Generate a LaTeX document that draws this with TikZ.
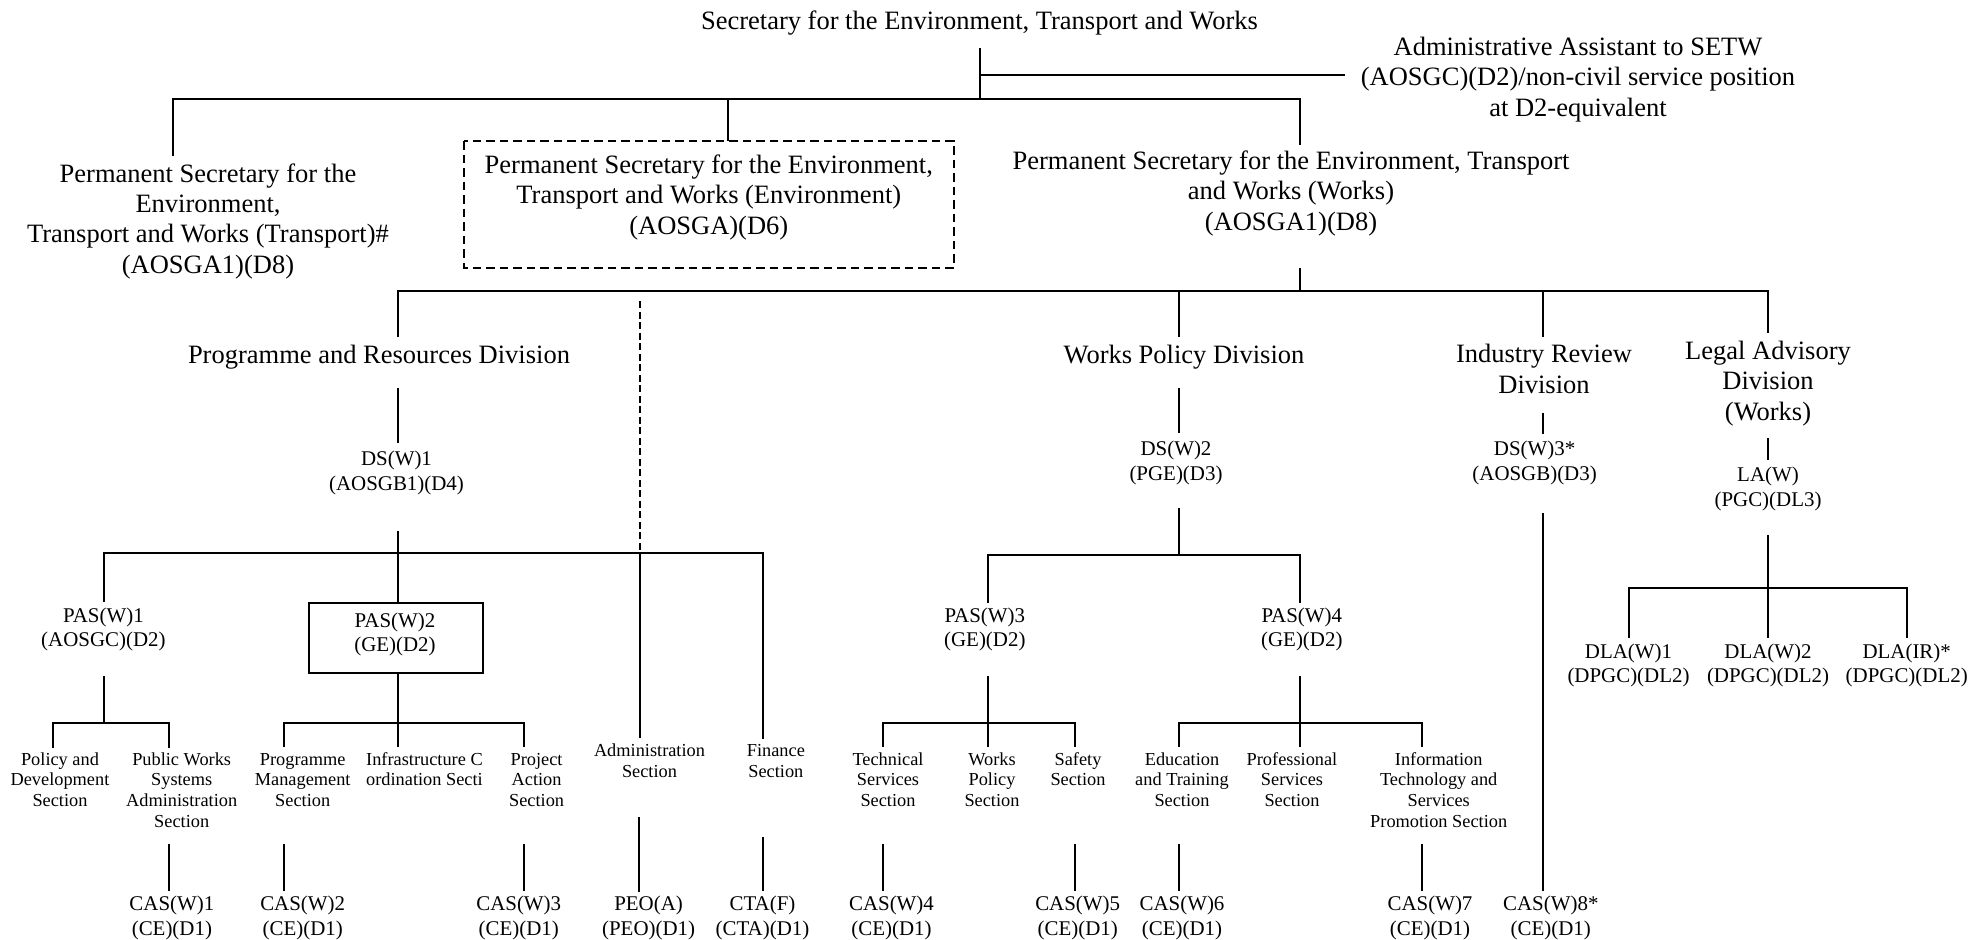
\documentclass[tikz,border=0pt]{standalone}
\usepackage{fontspec}
\setmainfont{Liberation Serif}
\begin{document}
\begin{tikzpicture}[x=1bp,y=-1bp,
  big/.style={font=\fontsize{26.6}{30.4}\selectfont, align=center, inner sep=0pt, anchor=base},
  mid/.style={font=\fontsize{21}{24.8}\selectfont, align=center, inner sep=0pt, anchor=base},
  sml/.style={font=\fontsize{18.4}{20.8}\selectfont, align=center, inner sep=0pt, anchor=base},
  ln/.style={line width=2bp},
  dbox/.style={line width=2bp, dash pattern=on 8.5bp off 5bp},
  dln/.style={line width=2bp, dash pattern=on 7bp off 3.5bp}]
\useasboundingbox (0,0) rectangle (1969,940);

% ---------- top level (node y = baseline of last line) ----------
\node[big] (setw) at (979.5,29) {Secretary for the Environment, Transport and Works};
\node[big] (aa) at (1578,116) {Administrative Assistant to SETW\\(AOSGC)(D2)/non-civil service position\\at D2-equivalent};
\node[big] (pst) at (208,273) {Permanent Secretary for the\\Environment,\\Transport and Works (Transport)\#\\(AOSGA1)(D8)};
\node[big] (pse) at (708.8,234) {Permanent Secretary for the Environment,\\Transport and Works (Environment)\\(AOSGA)(D6)};
\node[big] (psw) at (1291,230) {Permanent Secretary for the Environment, Transport\\and Works (Works)\\(AOSGA1)(D8)};
\draw[dbox] (464,141) rectangle (953.6,267.5);

\coordinate (s0) at (980,48);
\coordinate (s1) at (980,75);
\coordinate (s2) at (980,99);
\coordinate (aaL) at (1345,75);
\coordinate (b1L) at (173,99);
\coordinate (b1E) at (727.7,99);
\coordinate (b1R) at (1300,99);
\coordinate (pstT) at (173,156);
\coordinate (pseT) at (727.7,141);
\coordinate (pswT) at (1300,145);
\draw[ln] (s0) -- (s2);
\draw[ln] (s1) -- (aaL);
\draw[ln] (pstT) -- (b1L) -- (b1R) -- (pswT);
\draw[ln] (b1E) -- (pseT);

% ---------- divisions ----------
\node[big] (prd) at (379,363) {Programme and Resources Division};
\node[big] (wpd) at (1184,363) {Works Policy Division};
\node[big] (ird) at (1544,393) {Industry Review\\Division};
\node[big] (lad) at (1768,420) {Legal Advisory\\Division\\(Works)};

\coordinate (pswB) at (1300,268);
\coordinate (b2W) at (1300,291);
\coordinate (b2L) at (398,291);
\coordinate (b2R) at (1768,291);
\coordinate (b2P) at (1179,291);
\coordinate (b2I) at (1542.7,291);
\coordinate (prdT) at (398,337);
\coordinate (wpdT) at (1179,337);
\coordinate (irdT) at (1542.7,337);
\coordinate (ladT) at (1768,333);
\draw[ln] (pswB) -- (b2W);
\draw[ln] (prdT) -- (b2L) -- (b2R) -- (ladT);
\draw[ln] (b2P) -- (wpdT);
\draw[ln] (b2I) -- (irdT);

% ---------- deputy secretaries ----------
\node[mid] (ds1) at (396.5,490) {DS(W)1\\(AOSGB1)(D4)};
\node[mid] (ds2) at (1176,480) {DS(W)2\\(PGE)(D3)};
\node[mid] (ds3) at (1534.6,480) {DS(W)3*\\(AOSGB)(D3)};
\node[mid] (law) at (1768,506.7) {LA(W)\\(PGC)(DL3)};

\coordinate (prdB) at (398,388);
\coordinate (ds1T) at (398,443);
\coordinate (wpdB) at (1179,388);
\coordinate (ds2T) at (1179,433);
\coordinate (irdB) at (1542.7,412.7);
\coordinate (ds3T) at (1542.7,434);
\coordinate (ladB) at (1768,438);
\coordinate (lawT) at (1768,460);
\draw[ln] (prdB) -- (ds1T);
\draw[ln] (wpdB) -- (ds2T);
\draw[ln] (irdB) -- (ds3T);
\draw[ln] (ladB) -- (lawT);

% ---------- PAS level ----------
\node[mid] (pas1) at (103.4,646.7) {PAS(W)1\\(AOSGC)(D2)};
\node[mid] (pas2) at (395,651.7) {PAS(W)2\\(GE)(D2)};
\draw[ln] (309,603.3) rectangle (483,673.3);
\node[mid] (pas3) at (984.8,646.7) {PAS(W)3\\(GE)(D2)};
\node[mid] (pas4) at (1301.8,646.7) {PAS(W)4\\(GE)(D2)};
\node[mid] (dla1) at (1628.5,682.7) {DLA(W)1\\(DPGC)(DL2)};
\node[mid] (dla2) at (1768,682.7) {DLA(W)2\\(DPGC)(DL2)};
\node[mid] (dlair) at (1906.7,682.7) {DLA(IR)*\\(DPGC)(DL2)};

\coordinate (ds1B) at (398,531);
\coordinate (b3M) at (398,552.7);
\coordinate (pas2T) at (398,603.3);
\coordinate (b3L) at (103.6,552.7);
\coordinate (b3R) at (762.5,552.7);
\coordinate (b3A) at (639.5,552.7);
\coordinate (pas1T) at (103.6,601.7);
\coordinate (dashT) at (639.5,301);
\coordinate (admT) at (639.5,738);
\coordinate (finT) at (762.5,739);
\draw[ln] (ds1B) -- (pas2T);
\draw[ln] (pas1T) -- (b3L) -- (b3R) -- (finT);
\draw[ln] (b3A) -- (admT);
\draw[dln] (dashT) -- (b3A);

\coordinate (ds2B) at (1179,508);
\coordinate (bwM) at (1179,555);
\coordinate (bwL) at (988,555);
\coordinate (bwR) at (1300,555);
\coordinate (pas3T) at (988,602.7);
\coordinate (pas4T) at (1300,602.7);
\draw[ln] (ds2B) -- (bwM);
\draw[ln] (pas3T) -- (bwL) -- (bwR) -- (pas4T);

\coordinate (lawB) at (1768,535);
\coordinate (dla2T) at (1768,638.3);
\coordinate (b5L) at (1629.4,588.3);
\coordinate (b5R) at (1906.7,588.3);
\coordinate (dla1T) at (1629.4,638.3);
\coordinate (dlairT) at (1906.7,638.3);
\draw[ln] (lawB) -- (dla2T);
\draw[ln] (dla1T) -- (b5L) -- (b5R) -- (dlairT);

% ---------- sections ----------
\node[sml] (pds) at (60,806.6) {Policy and\\Development\\Section};
\node[sml] (pwsa) at (181.7,827.4) {Public Works\\Systems\\Administration\\Section};
\node[sml] (pms) at (302.7,806.6) {Programme\\Management\\Section};
\begin{scope}
\clip (360,740) rectangle (483.5,815);
\node[sml, align=left, anchor=base west] (ics) at (366,785.8) {Infrastructure C\\ordination Secti};
\end{scope}
\node[sml] (pas) at (536.6,806.6) {Project\\Action\\Section};
\node[sml] (adm) at (649.5,777.5) {Administration\\Section};
\node[sml] (fin) at (775.9,777.5) {Finance\\Section};
\node[sml] (tss) at (888,806.6) {Technical\\Services\\Section};
\node[sml] (wps) at (992,806.6) {Works\\Policy\\Section};
\node[sml] (saf) at (1078,785.8) {Safety\\Section};
\node[sml] (ets) at (1182,806.6) {Education\\and Training\\Section};
\node[sml] (pss) at (1292,806.6) {Professional\\Services\\Section};
\node[sml] (its) at (1438.7,827.4) {Information\\Technology and\\Services\\Promotion Section};

% PAS(W)1 branch
\coordinate (pas1B) at (104,676);
\coordinate (l1M) at (104,722.7);
\coordinate (l1L) at (52.7,722.7);
\coordinate (l1R) at (168.75,722.7);
\coordinate (pdsT) at (52.7,747.7);
\coordinate (pwsaT) at (168.75,747.7);
\draw[ln] (pas1B) -- (l1M);
\draw[ln] (pdsT) -- (l1L) -- (l1R) -- (pwsaT);
% PAS(W)2 branch
\coordinate (pas2B) at (398,673.3);
\coordinate (icsT) at (398,746.7);
\coordinate (l2L) at (283.5,722.7);
\coordinate (l2R) at (523.7,722.7);
\coordinate (pmsT) at (283.5,747);
\coordinate (pasT) at (523.7,747);
\draw[ln] (pas2B) -- (icsT);
\draw[ln] (pmsT) -- (l2L) -- (l2R) -- (pasT);
% PAS(W)3 branch
\coordinate (pas3B) at (988,676);
\coordinate (wpsT) at (988,746.7);
\coordinate (l3L) at (883,722.7);
\coordinate (l3R) at (1075,722.7);
\coordinate (tssT) at (883,746.7);
\coordinate (safT) at (1075,746.7);
\draw[ln] (pas3B) -- (wpsT);
\draw[ln] (tssT) -- (l3L) -- (l3R) -- (safT);
% PAS(W)4 branch
\coordinate (pas4B) at (1300,676);
\coordinate (pssT) at (1300,746.7);
\coordinate (l4L) at (1179,722.7);
\coordinate (l4R) at (1421.6,722.7);
\coordinate (etsT) at (1179,746.7);
\coordinate (itsT) at (1421.6,746.7);
\draw[ln] (pas4B) -- (pssT);
\draw[ln] (etsT) -- (l4L) -- (l4R) -- (itsT);

% ---------- bottom posts ----------
\node[mid] (cas1) at (171.9,935) {CAS(W)1\\(CE)(D1)};
\node[mid] (cas2) at (302.7,935) {CAS(W)2\\(CE)(D1)};
\node[mid] (cas3) at (518.75,935) {CAS(W)3\\(CE)(D1)};
\node[mid] (peo) at (648.6,935) {PEO(A)\\(PEO)(D1)};
\node[mid] (cta) at (762.5,935) {CTA(F)\\(CTA)(D1)};
\node[mid] (cas4) at (891.5,935) {CAS(W)4\\(CE)(D1)};
\node[mid] (cas5) at (1077.7,935) {CAS(W)5\\(CE)(D1)};
\node[mid] (cas6) at (1182,935) {CAS(W)6\\(CE)(D1)};
\node[mid] (cas7) at (1430,935) {CAS(W)7\\(CE)(D1)};
\node[mid] (cas8) at (1550.8,935) {CAS(W)8*\\(CE)(D1)};

\coordinate (pwsaB) at (168.75,844);   \coordinate (cas1T) at (168.75,890.7);
\coordinate (pmsB) at (283.5,844);     \coordinate (cas2T) at (283.5,890.7);
\coordinate (pasB) at (523.7,844);     \coordinate (cas3T) at (523.7,890.7);
\coordinate (admB) at (639,817);       \coordinate (peoT) at (639,891.7);
\coordinate (finB) at (762.5,837);     \coordinate (ctaT) at (762.5,890.7);
\coordinate (tssB) at (883,844);       \coordinate (cas4T) at (883,890.7);
\coordinate (safB) at (1075,844);      \coordinate (cas5T) at (1075,890.7);
\coordinate (etsB) at (1179,844);      \coordinate (cas6T) at (1179,890.7);
\coordinate (itsB) at (1421.6,844);    \coordinate (cas7T) at (1421.6,890.7);
\coordinate (ds3B) at (1542.7,513.3);  \coordinate (cas8T) at (1542.7,890.7);
\draw[ln] (pwsaB) -- (cas1T);
\draw[ln] (pmsB) -- (cas2T);
\draw[ln] (pasB) -- (cas3T);
\draw[ln] (admB) -- (peoT);
\draw[ln] (finB) -- (ctaT);
\draw[ln] (tssB) -- (cas4T);
\draw[ln] (safB) -- (cas5T);
\draw[ln] (etsB) -- (cas6T);
\draw[ln] (itsB) -- (cas7T);
\draw[ln] (ds3B) -- (cas8T);
\end{tikzpicture}
\end{document}
